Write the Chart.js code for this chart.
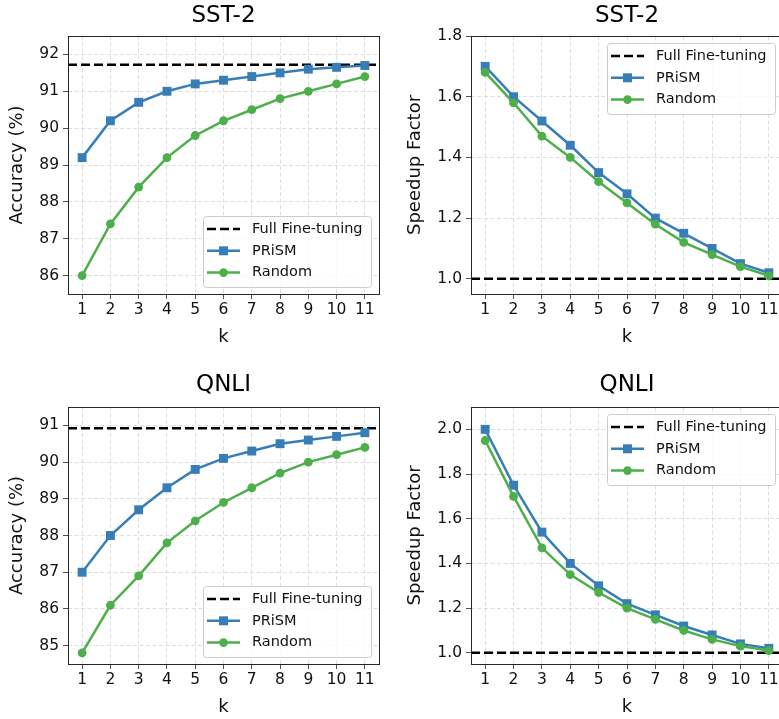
<!DOCTYPE html>
<html>
<head>
<meta charset="utf-8">
<script src="https://cdn.jsdelivr.net/npm/chart.js@4"></script>
<style>
  html, body { margin: 0; padding: 0; background: #fff; overflow: hidden; }
  body { width: 779px; height: 719px; position: relative; }
  .panel { position: absolute; }
</style>
</head>
<body>
<div class="panel" style="left:0;top:0"><canvas id="c1" width="390" height="360"></canvas></div>
<div class="panel" style="left:390px;top:0"><canvas id="c2" width="400" height="360"></canvas></div>
<div class="panel" style="left:0;top:360px"><canvas id="c3" width="390" height="359"></canvas></div>
<div class="panel" style="left:390px;top:360px"><canvas id="c4" width="400" height="359"></canvas></div>
<script>
// dados
const kValues = [1, 2, 3, 4, 5, 6, 7, 8, 9, 10, 11];
const xRange = [0.5, 11.5];

const sstAccPrism  = [89.2, 90.2, 90.7, 91.0, 91.2, 91.3, 91.4, 91.5, 91.6, 91.65, 91.7];
const sstAccRandom = [86.0, 87.4, 88.4, 89.2, 89.8, 90.2, 90.5, 90.8, 91.0, 91.2, 91.4];
const sstAccFull = 91.72;

const sstSpeedPrism  = [1.70, 1.60, 1.52, 1.44, 1.35, 1.28, 1.20, 1.15, 1.10, 1.05, 1.02];
const sstSpeedRandom = [1.68, 1.58, 1.47, 1.40, 1.32, 1.25, 1.18, 1.12, 1.08, 1.04, 1.01];
const sstSpeedFull = 1.0;

const qnliAccPrism  = [87.0, 88.0, 88.7, 89.3, 89.8, 90.1, 90.3, 90.5, 90.6, 90.7, 90.8];
const qnliAccRandom = [84.8, 86.1, 86.9, 87.8, 88.4, 88.9, 89.3, 89.7, 90.0, 90.2, 90.4];
const qnliAccFull = 90.92;

const qnliSpeedPrism  = [2.00, 1.75, 1.54, 1.40, 1.30, 1.22, 1.17, 1.12, 1.08, 1.04, 1.02];
const qnliSpeedRandom = [1.95, 1.70, 1.47, 1.35, 1.27, 1.20, 1.15, 1.10, 1.06, 1.03, 1.01];
const qnliSpeedFull = 1.0;

const sstAccTicks = [86, 87, 88, 89, 90, 91, 92];
const qnliAccTicks = [85, 86, 87, 88, 89, 90, 91];
const sstSpeedTicks = [1.0, 1.2, 1.4, 1.6, 1.8];
const qnliSpeedTicks = [1.0, 1.2, 1.4, 1.6, 1.8, 2.0];

const legendLabels = ['Full Fine-tuning', 'PRiSM', 'Random'];
const BLUE = '#377eb8';
const GREEN = '#4daf4a';
const FONT = "'DejaVu Sans', sans-serif";

// legenda dentro do gráfico (estilo matplotlib)
const insetLegend = {
    id: 'insetLegend',
    afterDraw(chart, args, opts) {
        const ctx = chart.ctx;
        const a = chart.chartArea;
        const w = 168, h = 71;
        const left = a.right - 8 - w;
        const top = opts.corner === 'lower' ? a.bottom - 7 - h : a.top + 7;

        ctx.save();
        ctx.beginPath();
        ctx.roundRect(left + 0.5, top + 0.5, w, h, 3);
        ctx.fillStyle = 'rgba(255,255,255,0.8)';
        ctx.fill();
        ctx.strokeStyle = '#cccccc';
        ctx.lineWidth = 1;
        ctx.stroke();

        const styles = [
            { color: '#000', dash: [9, 4], width: 2.5, marker: null },
            { color: BLUE, dash: [], width: 2.5, marker: 'rect' },
            { color: GREEN, dash: [], width: 2.5, marker: 'circle' }
        ];
        ctx.font = '14.5px ' + FONT;
        ctx.textBaseline = 'middle';
        styles.forEach((s, i) => {
            const y = top + 13 + i * 21.8;
            ctx.beginPath();
            ctx.setLineDash(s.dash);
            ctx.strokeStyle = s.color;
            ctx.lineWidth = s.width;
            ctx.moveTo(left + 4, y);
            ctx.lineTo(left + 37, y);
            ctx.stroke();
            ctx.setLineDash([]);
            ctx.fillStyle = s.color;
            if (s.marker === 'rect') {
                ctx.fillRect(left + 20.5 - 4.5, y - 4.5, 9, 9);
            } else if (s.marker === 'circle') {
                ctx.beginPath();
                ctx.arc(left + 20.5, y, 4.3, 0, Math.PI * 2);
                ctx.fill();
            }
            ctx.fillStyle = '#111';
            ctx.fillText(legendLabels[i], left + 49, y);
        });
        ctx.restore();
    }
};

// moldura do eixo
const frame = {
    id: 'frame',
    afterDraw(chart) {
        const a = chart.chartArea;
        const ctx = chart.ctx;
        ctx.save();
        ctx.strokeStyle = '#262626';
        ctx.lineWidth = 1;
        ctx.strokeRect(Math.round(a.left) + 0.5, Math.round(a.top) + 0.5,
            Math.round(a.right - a.left), Math.round(a.bottom - a.top));
        ctx.restore();
    }
};

function toPoints(values) {
    return kValues.map((k, i) => ({ x: k, y: values[i] }));
}

function renderPanel(id, cfg) {
    const canvas = document.getElementById(id);
    const ctx = canvas.getContext('2d');

    new Chart(ctx, {
        type: 'line',
        data: {
            datasets: [
                {
                    label: legendLabels[0],
                    data: [{ x: xRange[0], y: cfg.full }, { x: xRange[1], y: cfg.full }],
                    borderColor: '#000',
                    borderWidth: 2.5,
                    borderDash: [9, 4],
                    pointRadius: 0,
                    order: 3
                },
                {
                    label: legendLabels[1],
                    data: toPoints(cfg.prism),
                    borderColor: BLUE,
                    backgroundColor: BLUE,
                    borderWidth: 2.5,
                    pointStyle: 'rect',
                    pointRadius: 6.3,
                    pointBorderWidth: 0,
                    order: 2
                },
                {
                    label: legendLabels[2],
                    data: toPoints(cfg.random),
                    borderColor: GREEN,
                    backgroundColor: GREEN,
                    borderWidth: 2.5,
                    pointStyle: 'circle',
                    pointRadius: 4.4,
                    pointBorderWidth: 0,
                    order: 1
                }
            ]
        },
        options: {
            responsive: false,
            animation: false,
            devicePixelRatio: 1,
            layout: { padding: { left: 0, right: cfg.padRight, top: 0, bottom: 0 } },
            plugins: {
                legend: { display: false },
                tooltip: { enabled: false },
                title: {
                    display: true,
                    fullSize: false,
                    text: cfg.title,
                    color: '#000',
                    font: { family: FONT, size: 23, weight: 'normal', lineHeight: 1.2 },
                    padding: cfg.titlePad
                },
                insetLegend: { corner: cfg.legendCorner }
            },
            scales: {
                x: {
                    type: 'linear',
                    min: xRange[0],
                    max: xRange[1],
                    afterBuildTicks: (s) => { s.ticks = kValues.map(v => ({ value: v })); },
                    afterFit: (s) => { s.height = cfg.xAxisHeight; },
                    grid: {
                        color: '#d6d6d6',
                        borderDash: [4, 2.5],
                        tickBorderDash: [],
                        tickColor: '#262626',
                        tickLength: 5,
                        lineWidth: 0.8
                    },
                    border: { display: false, dash: [4, 2.5] },
                    ticks: {
                        color: '#111',
                        font: { family: FONT, size: 15.5 },
                        padding: 2,
                        maxRotation: 0,
                        autoSkip: false
                    },
                    title: {
                        display: true,
                        text: 'k',
                        color: '#111',
                        font: { family: FONT, size: 18, lineHeight: 1.2 },
                        padding: { top: 0, bottom: cfg.kPad }
                    }
                },
                y: {
                    type: 'linear',
                    min: cfg.yRange[0],
                    max: cfg.yRange[1],
                    afterBuildTicks: (s) => { s.ticks = cfg.yTicks.map(v => ({ value: v })); },
                    afterFit: (s) => { s.width = cfg.yAxisWidth; },
                    grid: {
                        color: '#d6d6d6',
                        tickBorderDash: [],
                        tickColor: '#262626',
                        tickLength: 5,
                        lineWidth: 0.8
                    },
                    border: { display: false, dash: [4, 2.5] },
                    ticks: {
                        color: '#111',
                        font: { family: FONT, size: 15.5 },
                        padding: 4,
                        autoSkip: false,
                        callback: cfg.tickFmt
                    },
                    title: {
                        display: true,
                        text: cfg.yLabel,
                        color: '#111',
                        font: { family: FONT, size: 18, lineHeight: 1.2 },
                        padding: { top: cfg.yTitlePad, bottom: 0 }
                    }
                }
            }
        },
        plugins: [frame, insetLegend]
    });
}

const intFmt = (v) => String(v);
const decFmt = (v) => v.toFixed(1);

renderPanel('c1', {
    title: 'SST-2', yLabel: 'Accuracy (%)',
    prism: sstAccPrism, random: sstAccRandom, full: sstAccFull,
    yRange: [85.5, 92.5], yTicks: sstAccTicks, tickFmt: intFmt,
    yAxisWidth: 68, padRight: 11, xAxisHeight: 66,
    titlePad: { top: 2.5, bottom: 5.9 }, kPad: 12, yTitlePad: 7,
    legendCorner: 'lower'
});
renderPanel('c2', {
    title: 'SST-2', yLabel: 'Speedup Factor',
    prism: sstSpeedPrism, random: sstSpeedRandom, full: sstSpeedFull,
    yRange: [0.95, 1.8], yTicks: sstSpeedTicks, tickFmt: decFmt,
    yAxisWidth: 81, padRight: 7, xAxisHeight: 66,
    titlePad: { top: 2.5, bottom: 5.9 }, kPad: 12, yTitlePad: 15,
    legendCorner: 'upper'
});
renderPanel('c3', {
    title: 'QNLI', yLabel: 'Accuracy (%)',
    prism: qnliAccPrism, random: qnliAccRandom, full: qnliAccFull,
    yRange: [84.5, 91.5], yTicks: qnliAccTicks, tickFmt: intFmt,
    yAxisWidth: 68, padRight: 11, xAxisHeight: 55,
    titlePad: { top: 11.5, bottom: 7.9 }, kPad: 1, yTitlePad: 7,
    legendCorner: 'lower'
});
renderPanel('c4', {
    title: 'QNLI', yLabel: 'Speedup Factor',
    prism: qnliSpeedPrism, random: qnliSpeedRandom, full: qnliSpeedFull,
    yRange: [0.95, 2.1], yTicks: qnliSpeedTicks, tickFmt: decFmt,
    yAxisWidth: 81, padRight: 7, xAxisHeight: 55,
    titlePad: { top: 11.5, bottom: 7.9 }, kPad: 1, yTitlePad: 15,
    legendCorner: 'upper'
});
</script>
</body>
</html>
